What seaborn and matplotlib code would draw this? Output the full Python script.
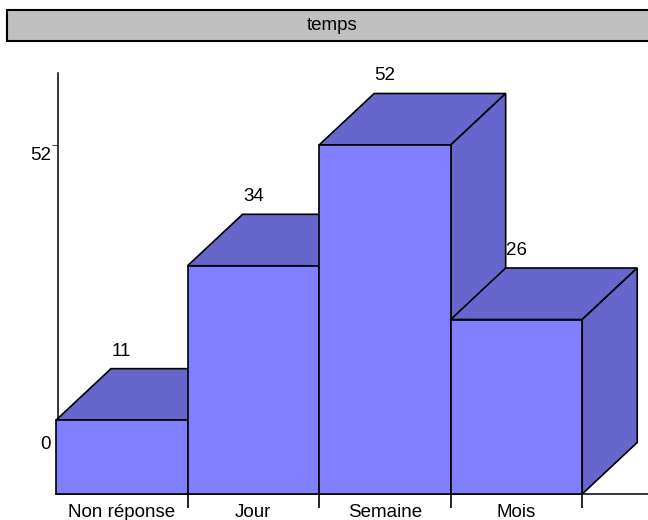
import matplotlib
matplotlib.use("Agg")
import matplotlib.pyplot as plt
from matplotlib.patches import Polygon, Rectangle
import seaborn as sns

# ---- data ----
categories = ["Non réponse", "Jour", "Semaine", "Mois"]
values = [11, 34, 52, 26]
title = "temps"
ytick_labels = ["0", "52"]

# ---- style ----
FRONT = "#8080ff"
SHADE = "#6666cc"
FS = 13.5
LW = 1.2

sns.set_theme(style="white")
plt.rcParams["font.family"] = ["Liberation Sans", "DejaVu Sans"]

W, H = 648, 520
fig = plt.figure(figsize=(W / 100, H / 100), dpi=100)
ax = fig.add_axes([56 / W, 26 / H, 592 / W, 494 / H])

sns.barplot(x=categories, y=values, color=FRONT, saturation=1, width=1,
            edgecolor="black", linewidth=LW, ax=ax)

xmin, xmax = -0.5, 4.0
px_per_y = 349 / 52.0
ymax = 494 / px_per_y
ax.set_xlim(xmin, xmax)
ax.set_ylim(0, ymax)
px_per_x = 592 / (xmax - xmin)

# depth of the 3D effect, converted from pixels to data units
dx = 55 / px_per_x
dy = 51.5 / px_per_y

for i, p in enumerate(ax.patches):
    x0 = p.get_x()
    w = p.get_width()
    h = p.get_height()
    base = 10 + i * 4
    p.set_zorder(base + 2)
    p.set_clip_on(False)
    top = Polygon([(x0, h), (x0 + dx, h + dy), (x0 + w + dx, h + dy), (x0 + w, h)],
                  closed=True, facecolor=SHADE, edgecolor="black", linewidth=LW,
                  zorder=base, clip_on=False, joinstyle="miter")
    side = Polygon([(x0 + w, 0), (x0 + w, h), (x0 + w + dx, h + dy), (x0 + w + dx, dy)],
                   closed=True, facecolor=SHADE, edgecolor="black", linewidth=LW,
                   zorder=base + 1, clip_on=False, joinstyle="miter")
    ax.add_patch(top)
    ax.add_patch(side)
    ax.text(x0 + w / 2, h + dy + 13 / px_per_y, f"{values[i]}", ha="center",
            va="baseline", fontsize=FS, color="black", zorder=100)

# spines
for s in ["top", "right"]:
    ax.spines[s].set_visible(False)
ax.spines["left"].set_position(("data", xmin + 2 / px_per_x))
ax.spines["left"].set_bounds(0, (494 - 73) / px_per_y)
ax.spines["left"].set_zorder(1)
for s in ["left", "bottom"]:
    ax.spines[s].set_color("black")
    ax.spines[s].set_linewidth(1.1)

# y ticks: labels "0" (on back floor) and "52"
ax.set_yticks([dy, (494 - 153) / px_per_y])
ax.set_yticklabels(ytick_labels)
ax.set_yticks([values[2]], minor=True)
ax.tick_params(axis="y", which="major", length=0, pad=5, labelsize=FS, labelcolor="black")
ax.tick_params(axis="y", which="minor", length=6 * 0.72, width=0.8, color="#555555",
               direction="out", left=True)

# x ticks: boundary ticks + category labels
ax.set_xticks([i + 0.5 for i in range(len(categories))])
ax.set_xticklabels([""] * len(categories))
ax.set_xticks(list(range(len(categories))), minor=True)
ax.set_xticklabels(categories, minor=True)
ax.tick_params(axis="x", which="major", length=14 * 0.72, width=LW, color="black",
               direction="out", bottom=True)
ax.tick_params(axis="x", which="minor", length=0, pad=7, labelsize=FS, labelcolor="black")
ax.set_xlabel("")
ax.set_ylabel("")
ax.grid(False)

# title box
fig.add_artist(Rectangle((6.5 / W, 1 - 41 / H), 700 / W, 31 / H, transform=fig.transFigure,
                         facecolor="#c0c0c0", edgecolor="black", linewidth=1.5))
fig.text(332 / W, 1 - 30.5 / H, title, ha="center", va="baseline", fontsize=FS, color="black")

fig.savefig("out.png", dpi=100)
